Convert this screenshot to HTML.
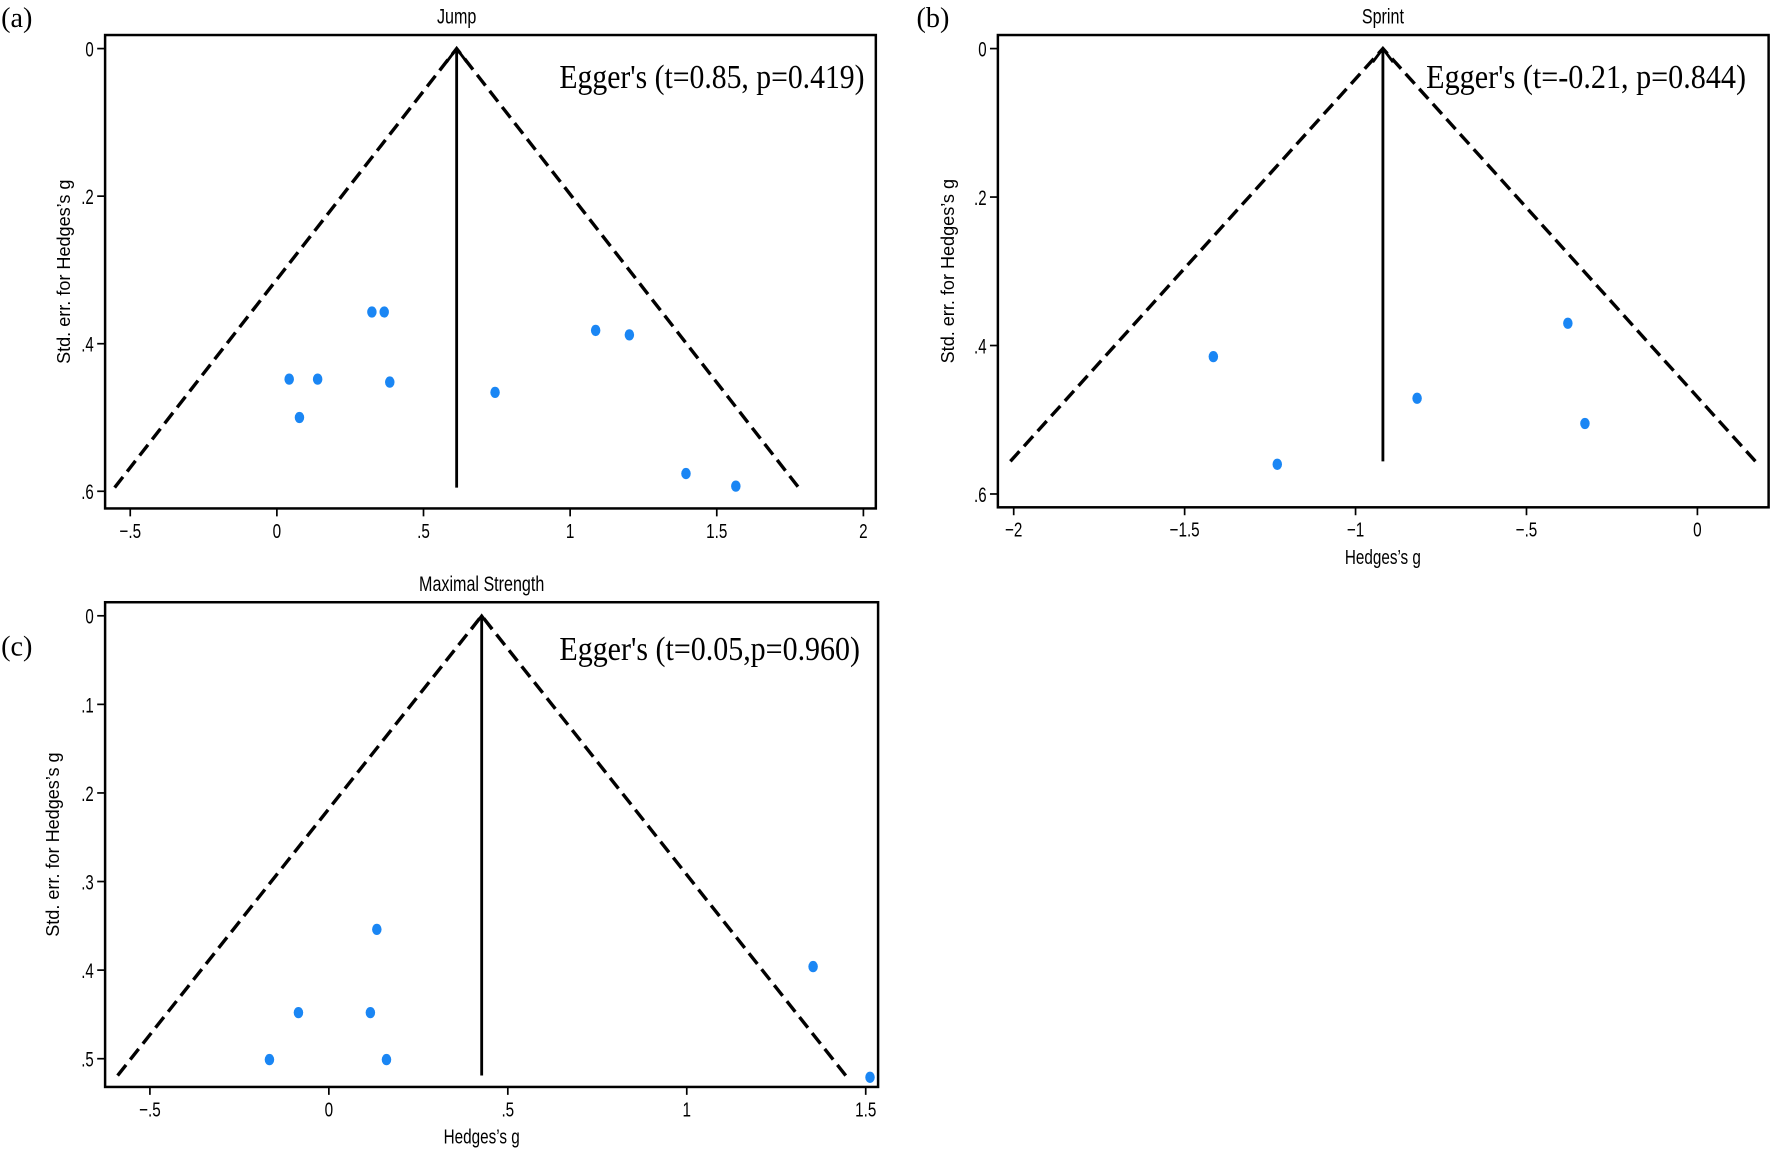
<!DOCTYPE html>
<html><head><meta charset="utf-8"><style>
html,body{margin:0;padding:0;background:#fff}
svg{display:block}
text{font-family:"Liberation Sans",sans-serif;fill:#000}
.serif{font-family:"Liberation Serif",serif}
</style></head><body>
<svg id="fig" width="1772" height="1157" viewBox="0 0 1568 1024" preserveAspectRatio="none" xmlns="http://www.w3.org/2000/svg"></svg>
<script>
// Panel (a) Jump
const jumpG = [0.324,0.366,1.087,1.202,0.042,0.139,0.385,0.744,0.077,1.395,1.565];
const jumpSE = [0.357,0.357,0.382,0.388,0.448,0.448,0.452,0.466,0.500,0.576,0.593];
const jumpPooled = 0.613;
const jumpMaxSE = 0.595;
const jumpXTicks = [-0.5,0,0.5,1,1.5,2];
const jumpXLabels = ["\u2212.5","0",".5","1","1.5","2"];
const jumpYTicks = [0,0.2,0.4,0.6];
const jumpYLabels = ["0",".2",".4",".6"];
// Panel (b) Sprint
const sprintG = [-1.416,-1.229,-0.820,-0.379,-0.329];
const sprintSE = [0.415,0.560,0.471,0.370,0.505];
const sprintPooled = -0.920;
const sprintMaxSE = 0.556;
const sprintXTicks = [-2,-1.5,-1,-0.5,0];
const sprintXLabels = ["\u22122","\u22121.5","\u22121","\u2212.5","0"];
const sprintYTicks = [0,0.2,0.4,0.6];
const sprintYLabels = ["0",".2",".4",".6"];
// Panel (c) Maximal Strength
const strengthG = [0.134,1.353,-0.085,0.116,-0.166,0.161,1.512];
const strengthSE = [0.354,0.396,0.448,0.448,0.501,0.501,0.521];
const strengthPooled = 0.427;
const strengthMaxSE = 0.519;
const strengthXTicks = [-0.5,0,0.5,1,1.5];
const strengthXLabels = ["\u2212.5","0",".5","1","1.5"];
const strengthYTicks = [0,0.1,0.2,0.3,0.4,0.5];
const strengthYLabels = ["0",".1",".2",".3",".4",".5"];

const NS="http://www.w3.org/2000/svg";
const svg=document.getElementById('fig');
function mk(tag,attrs,parent){const e=document.createElementNS(NS,tag);for(const k in attrs)e.setAttribute(k,attrs[k]);(parent||svg).appendChild(e);return e;}

function panel(p){
  const g=mk('g',{});
  
  
  const X=v=>p.x0+v*p.xs, Y=v=>p.y0+v*p.ys;
  const box=mk('rect',{x:p.L,y:p.T,width:p.R-p.L,height:p.B-p.T,fill:'none',stroke:'#000','stroke-width':2.2},g);
  
  
  p.yt.forEach((v,i)=>{
    const t=mk('line',{x1:p.L-7,x2:p.L,y1:Y(v),y2:Y(v),stroke:'#000','stroke-width':1.5},g);
    
    
    const l=mk('text',{x:p.L-10,y:Y(v)+7,'text-anchor':'end','font-size':19,transform:`translate(${p.L-10},${Y(v)}) scale(0.7,1) translate(${-(p.L-10)},${-Y(v)})`},g);
    l.textContent=p.yl[i];
    
    
  });
  p.xt.forEach((v,i)=>{
    const t=mk('line',{x1:X(v),x2:X(v),y1:p.B,y2:p.B+7,stroke:'#000','stroke-width':1.5},g);
    
    
    const l=mk('text',{x:X(v),y:p.B+26,'text-anchor':'middle','font-size':18,transform:`translate(${X(v)},0) scale(0.75,1) translate(${-X(v)},0)`},g);
    l.textContent=p.xl[i];
    
    
  });
  const lo=p.pooled-1.96*p.maxSE, hi=p.pooled+1.96*p.maxSE;
  const f=mk('polyline',{points:`${X(lo)},${Y(p.maxSE)} ${X(p.pooled)},${Y(0)} ${X(hi)},${Y(p.maxSE)}`,fill:'none',stroke:'#000','stroke-width':3,'stroke-dasharray':'12,6'},g);
  
  
  const v=mk('line',{x1:X(p.pooled),x2:X(p.pooled),y1:Y(0)+2,y2:Y(p.maxSE),stroke:'#000','stroke-width':2.5},g);
  
  
  const a=mk('polyline',{points:`${X(p.pooled)-9},${Y(0)+12} ${X(p.pooled)},${Y(0)} ${X(p.pooled)+9},${Y(0)+12}`,fill:'none',stroke:'#000','stroke-width':2.5},g);
  
  
  p.gs.forEach((gv,i)=>{
    const c=mk('ellipse',{cx:X(gv),cy:Y(p.se[i]),rx:4.2,ry:5,fill:'#1a86f4'},g);
    
    
  });
  const tt=mk('text',{x:X(p.pooled),y:p.T-10,'text-anchor':'middle','font-size':19,transform:`translate(${X(p.pooled)},0) scale(0.75,1) translate(${-X(p.pooled)},0)`},g);
  tt.textContent=p.title;
  
  
  const lb=mk('text',{x:p.labX,y:p.labY,'font-size':25,class:'serif'},g);
  lb.textContent=p.lab;
  
  
  const eg=mk('text',{x:p.egX,y:p.egY,'font-size':30,class:'serif',textLength:p.egW,lengthAdjust:'spacingAndGlyphs'},g);
  eg.textContent=p.egger;
  
  
  const yc=(p.T+p.B)/2;
  const ya=mk('text',{x:p.yaX,y:yc,'text-anchor':'middle','font-size':16,transform:`rotate(-90 ${p.yaX} ${yc})`},g);
  ya.textContent="Std. err. for Hedges\u2019s g";
  
  
  if(p.xa){
    const xa=mk('text',{x:X(p.pooled),y:p.B+50,'text-anchor':'middle','font-size':18,transform:`translate(${X(p.pooled)},0) scale(0.75,1) translate(${-X(p.pooled)},0)`},g);
    xa.textContent="Hedges\u2019s g";
    
    
  }
}

panel({id:'jump',L:93,R:775,T:31,B:450,x0:245,xs:259.5,y0:43,ys:653,
  xt:jumpXTicks,xl:jumpXLabels,yt:jumpYTicks,yl:jumpYLabels,
  gs:jumpG,se:jumpSE,pooled:jumpPooled,maxSE:jumpMaxSE,title:'Jump',
  lab:'(a)',labX:1,labY:24,egger:"Egger's (t=0.85, p=0.419)",egX:495,egY:78,egW:270,yaX:62,xa:false});
panel({id:'sprint',L:883,R:1565,T:31,B:449,x0:1502,xs:302.5,y0:43,ys:657,
  xt:sprintXTicks,xl:sprintXLabels,yt:sprintYTicks,yl:sprintYLabels,
  gs:sprintG,se:sprintSE,pooled:sprintPooled,maxSE:sprintMaxSE,title:'Sprint',
  lab:'(b)',labX:811,labY:24,egger:"Egger's (t=-0.21, p=0.844)",egX:1262,egY:78,egW:283,yaX:844,xa:true});
panel({id:'strength',L:93,R:777,T:533,B:962,x0:291,xs:316.7,y0:545,ys:784,
  xt:strengthXTicks,xl:strengthXLabels,yt:strengthYTicks,yl:strengthYLabels,
  gs:strengthG,se:strengthSE,pooled:strengthPooled,maxSE:strengthMaxSE,title:'Maximal Strength',
  lab:'(c)',labX:1,labY:580,egger:"Egger's (t=0.05,p=0.960)",egX:495,egY:584,egW:266,yaX:52,xa:true});
</script>
</body></html>
